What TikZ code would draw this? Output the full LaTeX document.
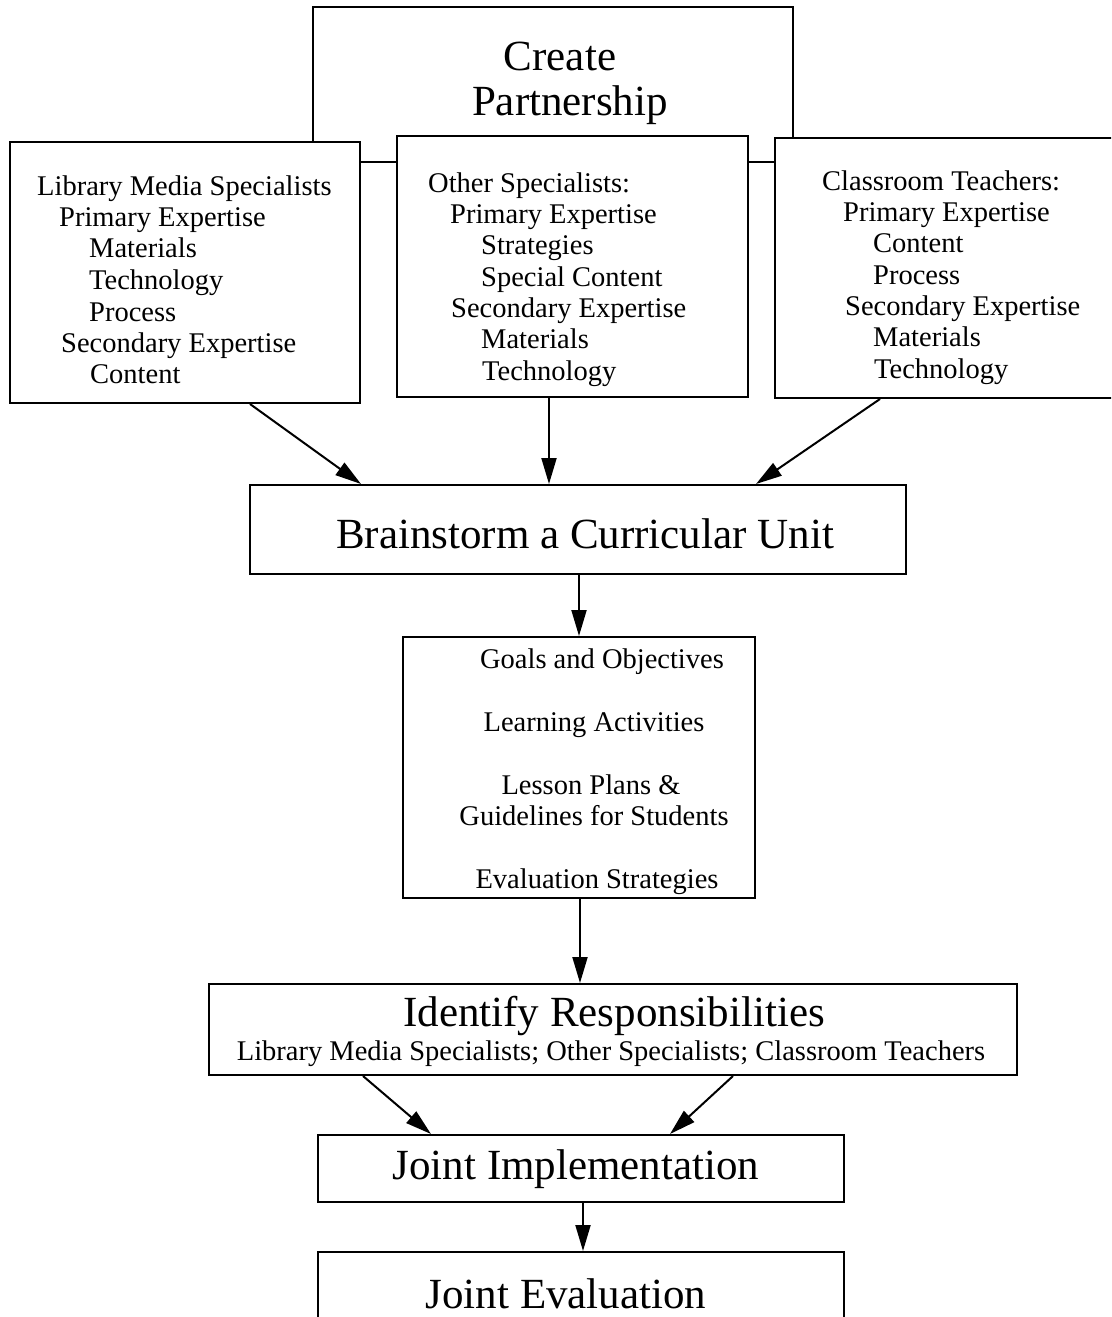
\documentclass[tikz,border=0pt]{standalone}
\usepackage{fontspec}
\setmainfont{Liberation Serif}
\usetikzlibrary{arrows.meta,calc}
\begin{document}
\begin{tikzpicture}[x=1pt,y=-1pt,
  box/.style={draw=black,line width=2pt,fill=white,rectangle,inner sep=0pt},
  sm/.style={font=\fontsize{28.5}{30}\selectfont,inner sep=0pt,anchor=base west},
  smc/.style={font=\fontsize{28.5}{30}\selectfont,inner sep=0pt,anchor=base},
  big/.style={font=\fontsize{43}{45}\selectfont,inner sep=0pt,anchor=base},
  arr/.style={line width=2pt,-{Triangle[length=26pt,width=15pt]}}]
\useasboundingbox (0,0) rectangle (1111,1317);
\clip (0,0) rectangle (1111,1317);
\fill[white] (0,0) rectangle (1111,1317);
% boxes
\node[box,minimum width=480pt,minimum height=155pt] (cp) at (553,84.5) {};
\node[box,minimum width=350pt,minimum height=261pt] (lms) at (185,272.5) {};
\node[box,minimum width=351pt,minimum height=261pt] (os) at (572.5,266.5) {};
\node[box,minimum width=350pt,minimum height=260pt] (ct) at (950,268) {};
\node[box,minimum width=656pt,minimum height=89pt] (brain) at (578,529.5) {};
\node[box,minimum width=352pt,minimum height=261pt] (goals) at (579,767.5) {};
\node[box,minimum width=808pt,minimum height=91pt] (ident) at (613,1029.5) {};
\node[box,minimum width=526pt,minimum height=67pt] (ji) at (581,1168.5) {};
\node[box,minimum width=526pt,minimum height=88pt] (je) at (581,1296) {};
% Create partnership
\node[big] (cp1) at (560,70) {Create};
\node[big] (cp2) at (570,115) {Partnership};
% left box
\node[sm] (l1) at (37,195) {Library Media Specialists};
\node[sm] (l2) at (59,226) {Primary Expertise};
\node[sm] (l3) at (89,257) {Materials};
\node[sm] (l4) at (89,289) {Technology};
\node[sm] (l5) at (89,321) {Process};
\node[sm] (l6) at (61,352) {Secondary Expertise};
\node[sm] (l7) at (90,383) {Content};
% middle box
\node[sm] (m1) at (428,192) {Other Specialists:};
\node[sm] (m2) at (450,223) {Primary Expertise};
\node[sm] (m3) at (481,254) {Strategies};
\node[sm] (m4) at (481,286) {Special Content};
\node[sm] (m5) at (451,317) {Secondary Expertise};
\node[sm] (m6) at (481,348) {Materials};
\node[sm] (m7) at (482,380) {Technology};
% right box
\node[sm] (r1) at (822,190) {Classroom Teachers:};
\node[sm] (r2) at (843,221) {Primary Expertise};
\node[sm] (r3) at (873,252) {Content};
\node[sm] (r4) at (873,284) {Process};
\node[sm] (r5) at (845,315) {Secondary Expertise};
\node[sm] (r6) at (873,346) {Materials};
\node[sm] (r7) at (874,378) {Technology};
% brainstorm
\node[big] (b1) at (585,548) {Brainstorm a Curricular Unit};
% goals
\node[smc] (g1) at (602,668) {Goals and Objectives};
\node[smc] (g2) at (594,731) {Learning Activities};
\node[smc] (g3) at (591,794) {Lesson Plans \&};
\node[smc] (g4) at (594,825) {Guidelines for Students};
\node[smc] (g5) at (597,888) {Evaluation Strategies};
% identify
\node[big] (i1) at (614,1026) {Identify Responsibilities};
\node[smc] (i2) at (611,1060) {Library Media Specialists; Other Specialists; Classroom Teachers};
% joint
\node[big] (j1) at (576,1179) {Joint Implementation};
\node[big] (j2) at (566,1308) {Joint Evaluation};
% arrows
\draw[arr] ($(lms.south west)+(241,0)$) -- ($(brain.north west)+(112,0)$);
\draw[arr] ($(os.south west)+(153,0)$) -- ($(brain.north west)+(300,0)$);
\draw[arr] ($(ct.south west)+(106,0)$) -- ($(brain.north west)+(507,0)$);
\draw[arr] ($(brain.south west)+(330,0)$) -- ($(goals.north west)+(177,0)$);
\draw[arr] ($(goals.south west)+(178,0)$) -- ($(ident.north west)+(372,0)$);
\draw[arr] ($(ident.south west)+(155,0)$) -- ($(ji.north west)+(114,0)$);
\draw[arr] ($(ident.south west)+(525,0)$) -- ($(ji.north west)+(353,0)$);
\draw[arr] ($(ji.south west)+(266,0)$) -- ($(je.north west)+(266,0)$);
\end{tikzpicture}
\end{document}
